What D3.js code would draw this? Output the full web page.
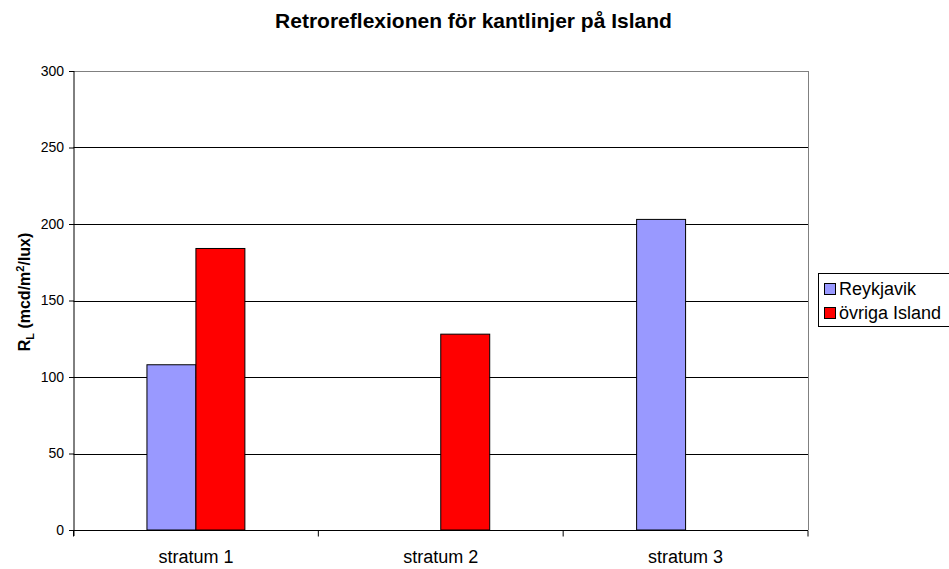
<!DOCTYPE html>
<html>
<head>
<meta charset="utf-8">
<script src="https://cdn.jsdelivr.net/npm/d3@7"></script>
<style>
  body { margin: 0; background: #fff; }
  svg text { font-family: "Liberation Sans", Arial, sans-serif; fill: #000; }
</style>
</head>
<body>
<div id="chart"></div>
<script>
// data
var categories = ["stratum 1", "stratum 2", "stratum 3"];
var seriesNames = ["Reykjavik", "övriga Island"];
var reykjavik = [108, null, 203];
var ovriga = [184, 128, null];
var yTicks = [0, 50, 100, 150, 200, 250, 300];
var colors = ["#9999ff", "#ff0000"];

var svg = d3.select("#chart")
    .append("svg")
    .attr("width", 949)
    .attr("height", 569),
    margin = { top: 71, right: 141, bottom: 39, left: 73.5 },
    width = +svg.attr("width") - margin.left - margin.right,
    height = +svg.attr("height") - margin.top - margin.bottom;

var g = svg.append("g")
    .attr("transform", "translate(" + margin.left + "," + margin.top + ")");

var x = d3.scaleBand()
    .domain(categories)
    .range([0, width]);

var y = d3.scaleLinear()
    .domain([0, 300])
    .range([height, 0]);

// gridlines
g.append("g")
    .selectAll("line")
    .data(yTicks.slice(1))
    .enter().append("line")
    .attr("x1", 0)
    .attr("x2", width)
    .attr("y1", function (d) { return Math.round(y(d)) + 0.5; })
    .attr("y2", function (d) { return Math.round(y(d)) + 0.5; })
    .attr("stroke", function (d) { return d === 300 ? "#808080" : "#000"; })
    .attr("stroke-width", 1);

// right border of plot area
g.append("line")
    .attr("x1", width + 0.5).attr("x2", width + 0.5)
    .attr("y1", 0).attr("y2", height)
    .attr("stroke", "#808080");

// bars
var data = [];
categories.forEach(function (c, i) {
    [reykjavik[i], ovriga[i]].forEach(function (v, j) {
        if (v != null) data.push({ cat: c, s: j, value: v });
    });
});

var bw = x.bandwidth() * 0.2;
g.selectAll(".bar")
    .data(data)
    .enter().append("rect")
    .attr("class", "bar")
    .attr("x", function (d) { return x(d.cat) + x.bandwidth() / 2 - bw + d.s * bw; })
    .attr("y", function (d) { return y(d.value); })
    .attr("width", bw)
    .attr("height", function (d) { return height - y(d.value); })
    .attr("fill", function (d) { return colors[d.s]; })
    .attr("stroke", "#000")
    .attr("stroke-width", 1);

// y axis
var yAxis = g.append("g")
    .attr("transform", "translate(0.5,0)")
    .call(d3.axisLeft(y).tickValues(yTicks).tickSize(5).tickPadding(5));
yAxis.selectAll("text").style("font-size", "14px").attr("font-family", null);
yAxis.select(".domain").attr("d", "M0,0V" + (height + 6));

// x axis
var xAxis = g.append("g")
    .attr("transform", "translate(0," + (Math.round(height) + 0.5) + ")")
    .call(d3.axisBottom(x).tickSize(0).tickPadding(20));
xAxis.select(".domain").attr("d", "M0,0H" + width);
xAxis.selectAll("text").style("font-size", "18px").attr("font-family", null);
// boundary ticks between categories
xAxis.selectAll(".btick")
    .data(d3.range(categories.length + 1))
    .enter().append("line")
    .attr("class", "btick")
    .attr("x1", function (i) { return i * x.bandwidth(); })
    .attr("x2", function (i) { return i * x.bandwidth(); })
    .attr("y1", 0).attr("y2", 6)
    .attr("stroke", "#000");

// title
svg.append("text")
    .attr("x", 473.5)
    .attr("y", 28)
    .attr("text-anchor", "middle")
    .style("font-size", "21px")
    .style("font-weight", "bold")
    .text("Retroreflexionen för kantlinjer på Island");

// y label
var yl = svg.append("text")
    .attr("transform", "translate(30,292) rotate(-90)")
    .attr("text-anchor", "middle")
    .style("font-size", "16px")
    .style("font-weight", "bold");
yl.append("tspan").text("R");
yl.append("tspan").attr("dy", 4).style("font-size", "11px").text("L");
yl.append("tspan").attr("dy", -4).text(" (mcd/m");
yl.append("tspan").attr("dy", -6).style("font-size", "11px").text("2");
yl.append("tspan").attr("dy", 6).text("/lux)");

// legend
var legend = svg.append("g").attr("transform", "translate(818,273)");
legend.append("rect")
    .attr("x", 0.5).attr("y", 0.5)
    .attr("width", 140).attr("height", 53)
    .attr("fill", "#fff")
    .attr("stroke", "#000");
seriesNames.forEach(function (name, i) {
    legend.append("rect")
        .attr("x", 6.5).attr("y", 10.5 + i * 24)
        .attr("width", 11).attr("height", 11)
        .attr("fill", colors[i])
        .attr("stroke", "#000");
    legend.append("text")
        .attr("x", 21).attr("y", 21.5 + i * 24)
        .style("font-size", "18px")
        .text(name);
});
</script>
</body>
</html>
